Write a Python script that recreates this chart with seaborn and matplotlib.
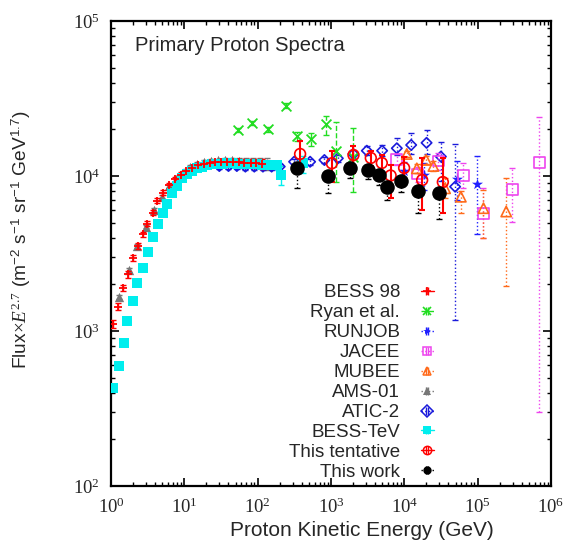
import numpy as np
import matplotlib
matplotlib.use("Agg")
import matplotlib.pyplot as plt
from matplotlib.lines import Line2D
from matplotlib.legend_handler import HandlerLine2D
from matplotlib.ticker import LogLocator, NullFormatter
import seaborn as sns

# ---- data ----
# BESS 98
bess98_e = [1.07, 1.23, 1.47, 1.69, 2.01, 2.31, 2.71, 3.10, 3.70, 4.28, 5.12, 6.2, 7.4, 8.9,
            10.7, 12.8, 15.4, 18.5, 22.2, 26.6, 32, 38.4, 46, 55, 66, 80, 96, 115]
bess98_f = [1110, 1435, 1900, 2320, 2940, 3550, 4200, 4920, 5800, 6930, 7800, 8700, 9500, 10200,
            10800, 11300, 11700, 12000, 12200, 12300, 12400, 12400, 12300, 12300, 12200, 12200, 12100, 12000]
bess98_err = [60, 70, 90, 110, 130, 150, 170, 190, 220, 250, 280, 300, 320, 340,
              360, 380, 390, 400, 420, 430, 450, 480, 520, 560, 620, 700, 800, 950]

# Ryan et al.
ryan_e = [54.5, 84.7, 140, 242, 341, 530, 849, 1175, 2020]
ryan_f = [19800, 21900, 20000, 28400, 18100, 17300, 21600, 14560, 13330]
ryan_lo = [600, 700, 700, 900, 1200, 1700, 3200, 5400, 5440]
ryan_hi = [600, 700, 700, 1200, 1200, 1700, 2800, 7700, 7100]

# RUNJOB
runjob_e = [9930, 18600, 53000, 97500]
runjob_f = [10760, 10140, 9520, 8880]
runjob_lo = [1500, 2000, 2500, 4650]
runjob_hi = [1500, 2000, 3000, 4580]

# JACEE
jacee_e = [7900, 15300, 29200, 64000, 120000, 298000, 690000]
jacee_f = [12800, 10300, 12500, 10100, 5740, 8200, 12200]
jacee_lo = [1000, 1200, 1500, 1730, 1760, 3150, 11900]
jacee_hi = [1000, 1200, 1500, 2000, 2630, 3100, 11800]

# MUBEE
mubee_e = [10800, 14800, 19800, 24900, 36000, 59000, 120000, 245000]
mubee_f = [13870, 11200, 12700, 11600, 8330, 7350, 6200, 5900]
mubee_lo = [700, 700, 800, 900, 1100, 1580, 2220, 3950]
mubee_hi = [700, 700, 800, 900, 1400, 600, 1930, 3800]

# AMS-01
ams_e = [1.29, 1.74, 2.26, 2.97, 3.83, 4.92, 6.24, 7.63, 9.5, 11.9, 14.8, 18.5, 23, 29,
         36, 45, 56, 70, 87, 108, 135]
ams_f = [1650, 2480, 3550, 4710, 6040, 7350, 8610, 9570, 10500, 11480, 12000, 12300, 12500, 12600,
         12600, 12600, 12500, 12400, 12300, 12200, 12000]
ams_err = [50, 70, 100, 120, 150, 180, 200, 220, 240, 260, 280, 300, 320, 360,
           400, 460, 540, 640, 760, 900, 1100]

# ATIC-2
atic_e = [30, 40, 52, 68, 90, 118, 155, 200, 314, 519, 813, 1240, 2020, 3080, 4980, 7900,
          12400, 20100, 31500, 49300]
atic_f = [11600, 11600, 11600, 11500, 11500, 11500, 11500, 11500, 12360, 12360, 12680, 13000,
          13870, 14560, 14560, 15100, 15850, 16370, 13340, 8530]
atic_lo = [500, 500, 500, 500, 500, 550, 600, 650, 500, 500, 600, 700, 900, 1000, 1200, 1500,
           2000, 2500, 4000, 7350]
atic_hi = [300, 300, 300, 300, 300, 350, 400, 450, 500, 500, 600, 700, 900, 1000, 1200, 2500,
           3000, 3400, 3300, 7570]

# BESS-TeV
besstev_e = [1.06, 1.29, 1.50, 1.65, 2.0, 2.26, 2.71, 3.17, 3.71, 4.34, 5.07, 5.75, 6.79, 7.87,
             9.22, 10.8, 12.6, 14.8, 17.3, 20.3, 23.8, 27.9, 32.7, 38.3, 44.9, 52.6, 61.7, 72.3,
             84.7, 99.3, 116, 136, 160, 185, 210, 417]
besstev_f = [429, 594, 834, 1165, 1567, 2042, 2560, 3250, 4060, 4920, 5740, 6590, 7730, 8610,
             9660, 10300, 10800, 11200, 11500, 11700, 11900, 12000, 12000, 12100, 12100, 12000,
             12000, 11900, 11900, 11900, 11800, 11800, 11700, 11700, 10150, 12100]
besstev_lo = [20, 25, 30, 40, 50, 60, 80, 90, 100, 120, 140, 160, 180, 200,
              220, 230, 240, 250, 260, 270, 280, 290, 300, 310, 320, 340, 360, 380,
              400, 430, 460, 500, 560, 650, 1400, 1600]
besstev_hi = besstev_lo[:-2] + [1500, 1300]

# This tentative
tent_e = [379, 1026, 2025, 3490, 4930, 6500, 9930, 17500, 33500]
tent_f = [13870, 12080, 13650, 13070, 12130, 10070, 11270, 9420, 9140]
tent_lo = [3210, 2900, 3250, 1500, 1500, 2870, 2000, 3400, 3400]
tent_hi = [2830, 2500, 1850, 1500, 1500, 1630, 2000, 3700, 3960]

# This work
work_e = [348, 922, 1820, 3180, 4530, 5770, 9040, 15600, 30100]
work_f = [11220, 10050, 11220, 10950, 10150, 8450, 9330, 8000, 7730]
work_lo = [2850, 2250, 1500, 1400, 1400, 1450, 1400, 2260, 2440]
work_hi = [500, 500, 500, 500, 500, 450, 450, 450, 450]

# ---- style ----
sns.set_style("ticks")
plt.rcParams["font.family"] = ["Liberation Sans", "DejaVu Sans"]
plt.rcParams["mathtext.fontset"] = "custom"
plt.rcParams["mathtext.rm"] = "Liberation Serif"
plt.rcParams["mathtext.it"] = "Liberation Serif:italic"
plt.rcParams["mathtext.sf"] = "Liberation Sans"

fig = plt.figure(figsize=(5.66, 5.46), dpi=100)
ax = fig.add_axes([111 / 566, 1 - 486 / 546, 440 / 566, 465 / 546])
ax.set_xscale("log")
ax.set_yscale("log")

handles = []
labels = []
cap_handler = HandlerLine2D(numpoints=2)
handler_map = {}


def add_series(e, f, lo, hi, label, color, marker, size, ls="-", filled=True, lw=1.0, z=3):
    eb = ax.errorbar(e, f, yerr=[lo, hi], fmt="none", ecolor=color, elinewidth=lw,
                     capsize=2, capthick=lw, zorder=z)
    eb[2][0].set_linestyle(ls)
    if marker in ("x", "+"):
        sns.scatterplot(x=e, y=f, ax=ax, marker=marker, s=size, color=color,
                        linewidth=1.3, legend=False, zorder=z + 0.5)
        proxy = Line2D([], [], ls="none", marker=marker, color=color, ms=6, mew=1.2)
    elif filled:
        sns.scatterplot(x=e, y=f, ax=ax, marker=marker, s=size, color=color,
                        edgecolor=color, linewidth=0, legend=False, zorder=z + 0.5)
        proxy = Line2D([], [], ls="none", marker=marker, color=color, ms=6, mew=0)
    else:
        sns.scatterplot(x=e, y=f, ax=ax, marker=marker, s=size, facecolor="none",
                        edgecolor=color, linewidth=1.2, legend=False, zorder=z + 0.5)
        proxy = Line2D([], [], ls="none", marker=marker, mfc="none", mec=color, ms=6, mew=1.1)
    # gnuplot-like key sample: horizontal bar with end caps plus the marker
    bar = Line2D([], [], color=color, lw=1.0, ls=ls)
    caps = Line2D([], [], ls="none", marker="|", color=color, ms=6, mew=1.0)
    handler_map[caps] = cap_handler
    handles.append((bar, caps, proxy))
    labels.append(label)


add_series(bess98_e, bess98_f, bess98_err, bess98_err, "BESS 98", "#ff0000", "+", 38, z=3)
add_series(ryan_e, ryan_f, ryan_lo, ryan_hi, "Ryan et al.", "#22dd22", "x", 50, ls="--", z=3)
add_series(runjob_e, runjob_f, runjob_lo, runjob_hi, "RUNJOB", "#2020ff", "*", 70, ls=":", z=4)
add_series(jacee_e, jacee_f, jacee_lo, jacee_hi, "JACEE", "#ee44ee", "s", 60, ls=":", filled=False, z=4)
add_series(mubee_e, mubee_f, mubee_lo, mubee_hi, "MUBEE", "#ff6a1a", "^", 55, ls=":", filled=False, z=4)
add_series(ams_e, ams_f, ams_err, ams_err, "AMS-01", "#777777", "^", 45, ls=":", z=2)
add_series(atic_e, atic_f, atic_lo, atic_hi, "ATIC-2", "#1a1adb", "D", 28, ls=":", filled=False, z=2.2)
add_series(besstev_e, besstev_f, besstev_lo, besstev_hi, "BESS-TeV", "#00eeee", "s", 62, z=2.5)
add_series(tent_e, tent_f, tent_lo, tent_hi, "This tentative", "#ff0000", "o", 60, lw=1.5, filled=False, z=5)
add_series(work_e, work_f, work_lo, work_hi, "This work", "#000000", "o", 110, ls=":", z=6)

ax.set_xlim(1, 1e6)
ax.set_ylim(1e2, 1e5)

ax.xaxis.set_major_locator(LogLocator(base=10, numticks=10))
ax.yaxis.set_major_locator(LogLocator(base=10, numticks=10))
ax.xaxis.set_minor_locator(LogLocator(base=10, subs=np.arange(2, 10), numticks=20))
ax.yaxis.set_minor_locator(LogLocator(base=10, subs=np.arange(2, 10), numticks=20))
ax.xaxis.set_minor_formatter(NullFormatter())
ax.yaxis.set_minor_formatter(NullFormatter())
ax.tick_params(which="both", direction="in", top=True, right=True, color="black")
ax.tick_params(which="major", length=6, width=1.2, labelsize=13.5,
               labelfontfamily="Liberation Serif", pad=8)
ax.tick_params(which="minor", length=3, width=1.0)
for sp in ax.spines.values():
    sp.set_linewidth(1.6)
    sp.set_color("black")

ax.set_xlabel("Proton Kinetic Energy (GeV)", fontsize=15)
ax.xaxis.set_label_coords(0.57, -0.076)
ax.set_ylabel(r"Flux$\times E^{2.7}$ (m$^{\mathsf{-2}}$ s$^{\mathsf{-1}}$ sr$^{\mathsf{-1}}$ GeV$^{\mathsf{1.7}}$)",
              fontsize=13.8)
ax.yaxis.set_label_coords(-0.177, 0.53)
ax.text(0.055, 0.948, "Primary Proton Spectra", transform=ax.transAxes,
        fontsize=14.5, ha="left", va="center")

ax.legend(handles, labels, handler_map=handler_map, loc="lower right",
          bbox_to_anchor=(0.734, 0.011), markerfirst=False, frameon=False,
          fontsize=13.5, handlelength=0.7, handletextpad=1.1, labelspacing=0.15,
          borderpad=0, borderaxespad=0)

fig.savefig("out.png", dpi=100)
